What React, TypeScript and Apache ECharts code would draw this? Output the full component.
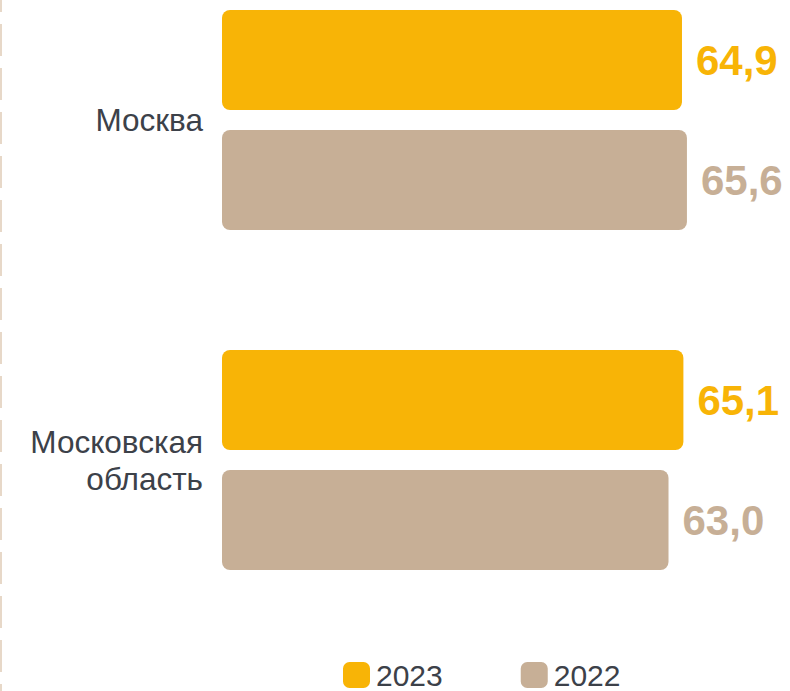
import React, { useEffect, useRef } from "react";
import * as echarts from "echarts";

const categories = ["Москва", "Московская\nобласть"];
const series2023 = [64.9, 65.1];
const series2022 = [65.6, 63.0];
const seriesNames = ["2023", "2022"];

const YELLOW = "#F8B406";
const BEIGE = "#C7AF96";
const TEXT = "#3c4149";
const FONT = "'Liberation Sans', Arial, sans-serif";
const SHIFT = 50;

export default function App() {
  const ref = useRef<HTMLDivElement>(null);
  useEffect(() => {
    if (!ref.current) return;
    const chart = echarts.init(ref.current, null, { renderer: "svg" });
    const fmt = (p: any) => Number(p.value).toFixed(1).replace(".", ",");
    const mkSeries = (name: string, data: number[], color: string) => ({
      name,
      type: "bar",
      data,
      barWidth: 100,
      barGap: "20%",
      itemStyle: { color, borderRadius: 8 },
      label: {
        show: true,
        position: "right",
        distance: 14,
        formatter: fmt,
        color,
        fontSize: 42,
        fontWeight: "bold",
        fontFamily: FONT,
      },
    });
    chart.setOption({
      animation: false,
      textStyle: { fontFamily: FONT },
      grid: { left: 222, width: 567, top: 0, height: 680 },
      xAxis: {
        type: "value",
        min: 0,
        max: 80,
        show: false,
      },
      yAxis: {
        type: "category",
        inverse: true,
        data: categories,
        axisLine: { show: false },
        axisTick: { show: false },
        splitLine: { show: false },
        axisLabel: {
          margin: 19,
          fontSize: 31.5,
          lineHeight: 37,
          color: TEXT,
          align: "right",
          fontFamily: FONT,
        },
      },
      legend: {
        left: 343,
        bottom: 1,
        padding: 0,
        itemWidth: 27,
        itemHeight: 26,
        itemGap: 78,
        icon: "roundRect",
        data: seriesNames,
        textStyle: { fontSize: 30, color: TEXT, fontFamily: FONT, padding: [0, 0, 0, 1] },
      },
      graphic: [
        {
          type: "line",
          shape: { x1: 1, y1: SHIFT, x2: 1, y2: SHIFT + 691 },
          style: { stroke: "#e7d8c8", lineWidth: 2, lineDash: [32, 12], lineDashOffset: 20 },
        },
      ],
      series: [
        mkSeries(seriesNames[0], series2023, YELLOW),
        mkSeries(seriesNames[1], series2022, BEIGE),
      ],
    });
    return () => chart.dispose();
  }, []);
  return (
    <div
      ref={ref}
      style={{ position: "absolute", left: 0, top: -SHIFT, width: 790, height: 691 + SHIFT }}
    />
  );
}
